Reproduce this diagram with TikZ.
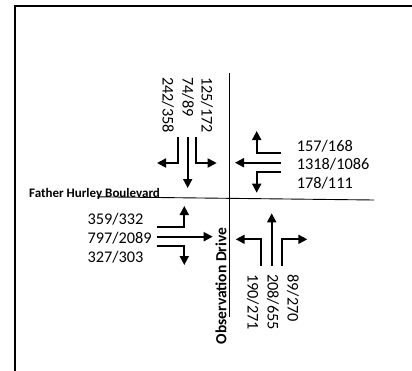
\documentclass[tikz,border=0pt]{standalone}
\usepackage{fontspec}
\setmainfont{Carlito}
\usetikzlibrary{arrows.meta}
\tikzset{
  mv/.style={-{Triangle[length=9pt,width=9pt]}, line width=1.8pt},
  road/.style={line width=0.9pt},
  vol/.style={font=\fontsize{16.3}{19}\selectfont, inner sep=0pt},
  rvol/.style={vol, rotate=-90, anchor=west},
  street/.style={font=\bfseries, inner sep=0pt},
}

\begin{document}
\begin{tikzpicture}[x=1pt, y=-1pt]
    \useasboundingbox (0,0) rectangle (412,370);
    \begin{scope}
      \clip (0,0) rectangle (412,370);
      \draw[line width=2pt] (15,6) rectangle (430,390);
    \end{scope}
    % roads
    \draw[road] (229.5,73) -- (229.5,317);
    \draw[road] (97,196.8) -- (374,200);
    \node[street, font=\fontsize{13}{15}\selectfont\bfseries, anchor=base west] (fhb) at (29,197.5) {Father Hurley Boulevard};
    \node[street, font=\fontsize{15.5}{18}\selectfont\bfseries, rotate=90] (obs) at (221,286) {Observation Drive};
    % southbound
    \draw[mv] (178.3,137) |- (157,163);
    \draw[mv] (187.7,137) -- (187.7,188);
    \draw[mv] (196,137) |- (216.7,163);
    \node[rvol] (sbl) at (168,77) {242/358};
    \node[rvol] (sbt) at (188,77) {74/89};
    \node[rvol] (sbr) at (207,77) {125/172};
    % westbound
    \draw[mv] (281,152.7) -| (256.7,131);
    \draw[mv] (281,162.7) -- (235,162.7);
    \draw[mv] (281,171.7) -| (256.7,192.7);
    \node[vol, anchor=west] (wbr) at (296.7,145.7) {157/168};
    \node[vol, anchor=west] (wbt) at (296.7,164) {1318/1086};
    \node[vol, anchor=west] (wbl) at (296.7,183) {178/111};
    % eastbound
    \draw[mv] (156.7,227.3) -| (184.3,206);
    \draw[mv] (156.7,236.7) -- (212.7,236.7);
    \draw[mv] (156.7,245.7) -| (184.3,265);
    \node[vol, anchor=west] (ebl) at (87.3,219) {359/332};
    \node[vol, anchor=west] (ebt) at (87.3,237.7) {797/2089};
    \node[vol, anchor=west] (ebr) at (87.3,256.7) {327/303};
    % northbound
    \draw[mv] (261,265.7) |- (235.7,239.3);
    \draw[mv] (271.7,265.7) -- (271.7,213.3);
    \draw[mv] (282.3,265.7) |- (307.3,239.3);
    \node[rvol] (nbl) at (253,274) {190/271};
    \node[rvol] (nbt) at (273,274) {208/655};
    \node[rvol] (nbr) at (293,274) {89/270};
\end{tikzpicture}
\end{document}
